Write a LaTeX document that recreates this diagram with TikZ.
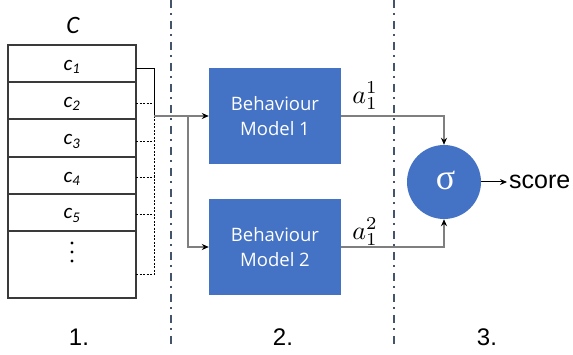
\documentclass[tikz,border=0pt]{standalone}
\usepackage{graphicx}
\usepackage{fontspec}
\setmainfont{Liberation Sans}
\newfontfamily\carl{Carlito}
\newfontfamily\osans{Open Sans}
\newfontfamily\lserif{Liberation Serif}
\usetikzlibrary{arrows.meta}
\definecolor{boxblue}{HTML}{4472C4}
\definecolor{sepcol}{HTML}{44546A}
\definecolor{conncol}{HTML}{7F7F7F}
\definecolor{tblcol}{HTML}{3A3A3A}
\newcommand{\biglab}[1]{\scalebox{2.6}{$#1$}}
\begin{document}
\begin{tikzpicture}[x=1pt,y=-1pt,
  cell/.style={draw=tblcol, line width=1.4pt, minimum width=128pt, inner sep=0pt},
  celltext/.style={font=\carl\itshape\fontsize{21}{23}\selectfont, inner sep=0pt},
  model/.style={fill=boxblue, minimum width=132pt, minimum height=96pt, text=white, align=center, inner sep=0pt, font=\osans\fontsize{18.5}{25}\selectfont},
  brk/.style={draw=black, line width=0.8pt},
  brkdash/.style={brk, dash pattern=on 2pt off 1.5pt},
  conn/.style={draw=conncol, line width=1.2pt, -{Stealth[black,length=7pt,width=6pt]}},
  sep/.style={draw=sepcol, line width=1.7pt, dash pattern=on 8pt off 5pt on 2pt off 6pt},
  bignum/.style={font=\fontsize{24}{26}\selectfont, anchor=base, inner sep=0pt},
  lab/.style={inner sep=0pt},
  vdot/.style={fill=black}
]
\useasboundingbox (0,0) rectangle (573,355);

% separators
\draw[sep] (171,0) -- (171,345);
\draw[sep] (394,0) -- (394,345);

% table
\node[cell, minimum height=37pt] (r1) at (72,63.5) {};
\node[cell, minimum height=37pt] (r2) at (72,100.5) {};
\node[cell, minimum height=38pt] (r3) at (72,138) {};
\node[cell, minimum height=37pt] (r4) at (72,175.5) {};
\node[cell, minimum height=37pt] (r5) at (72,212.5) {};
\node[cell, minimum height=67pt] (r6) at (72,264.5) {};
\node[celltext] (l1) at (72,67) {c\textsubscript{1}};
\node[celltext] (l2) at (72,103.5) {c\textsubscript{2}};
\node[celltext] (l3) at (72,141.5) {c\textsubscript{3}};
\node[celltext] (l4) at (72,178.5) {c\textsubscript{4}};
\node[celltext] (l5) at (72,215.5) {c\textsubscript{5}};
\fill[vdot] (72,243) circle (1.6pt) (72,252) circle (1.6pt) (72,261) circle (1.6pt);
\node[font=\carl\itshape\fontsize{25}{27}\selectfont, inner sep=0pt] (C) at (73,25) {C};

% bracket
\coordinate (t1) at (136,68);
\coordinate (t2) at (136,103);
\coordinate (t3) at (136,141);
\coordinate (t4) at (136,177);
\coordinate (t5) at (136,214);
\coordinate (t6) at (136,274);
\coordinate (j) at (154,116);
\draw[brk] (t1) -| (j);
\draw[brkdash] (t2) -- (t2 -| j);
\draw[brkdash] (t3) -- (t3 -| j);
\draw[brkdash] (t4) -- (t4 -| j);
\draw[brkdash] (t5) -- (t5 -| j);
\draw[brkdash] (t6) -- (t6 -| j);
\draw[brkdash] (j) -- (j |- t6);

% models
\node[model] (m1) at (275,116) {Behaviour\\Model 1};
\node[model] (m2) at (275,247) {Behaviour\\Model 2};

\coordinate (br) at (188,116);
\draw[conn] (j) -- (m1.west);
\draw[conn] (br) |- (m2.west);

% sigma
\node[circle, fill=boxblue, minimum size=74pt, inner sep=0pt] (sig) at (444,182) {};
\node[text=white, inner sep=0pt, font=\lserif\fontsize{36}{38}\selectfont] (sigt) at (445.5,180) {σ};
\draw[conn] (m1.east) -| (sig.north);
\draw[conn] (m2.east) -| (sig.south);
\node[lab] (a1) at (365,96) {\biglab{a_1^1}};
\node[lab] (a2) at (365,232) {\biglab{a_1^2}};

\node[font=\fontsize{25}{27}\selectfont, inner sep=0pt, anchor=west] (score) at (509,182) {score};
\draw[draw=black, line width=1pt, -{Stealth[black,length=7pt,width=6pt]}] (sig.east) -- ([xshift=-2pt]score.west);

% numbers
\node[bignum] (n1) at (79,345) {1.};
\node[bignum] (n2) at (283,345) {2.};
\node[bignum] (n3) at (487,345) {3.};
\end{tikzpicture}
\end{document}
